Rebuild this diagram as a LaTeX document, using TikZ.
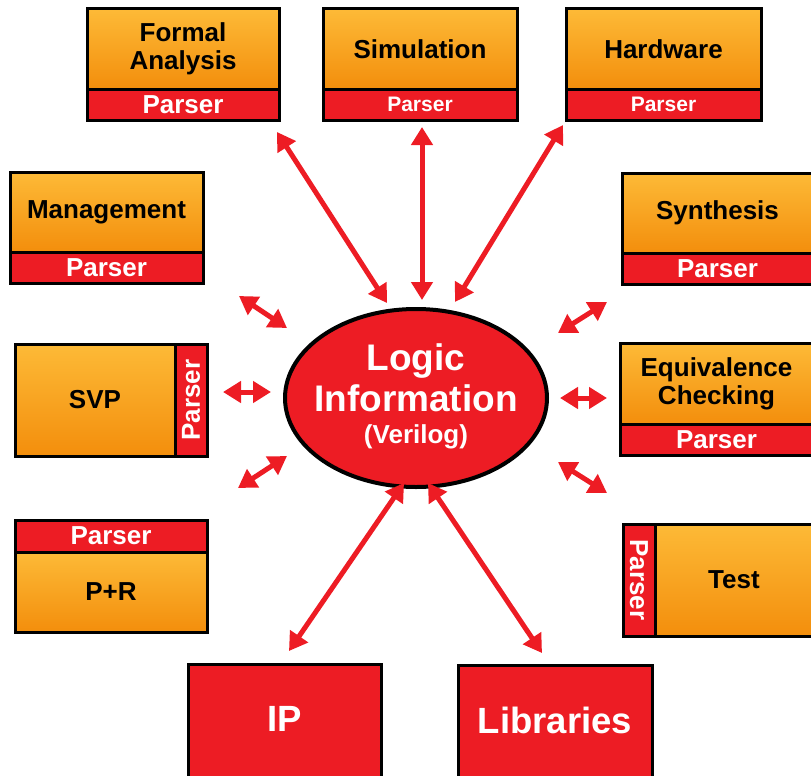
\documentclass[tikz,border=0pt]{standalone}
\usepackage{fontspec}
\setmainfont{Liberation Sans}
\usetikzlibrary{arrows.meta,shapes.geometric}

\definecolor{parred}{RGB}{237,28,36}
\definecolor{orgtop}{RGB}{253,186,55}
\definecolor{orgbot}{RGB}{243,142,12}

\begin{document}
\begin{tikzpicture}[x=1pt,y=-1pt,
  tool/.style={draw=black, line width=3pt, top color=orgtop, bottom color=orgbot,
    inner sep=0pt, outer sep=0pt, anchor=north west, align=center,
    font=\fontsize{26}{28}\selectfont\bfseries},
  parser/.style={draw=black, line width=3pt, fill=parred, text=white,
    inner sep=0pt, outer sep=0pt, anchor=north west,
    font=\fontsize{26}{28}\selectfont\bfseries},
  smallparser/.style={parser, font=\fontsize{21}{24}\selectfont\bfseries},
  source/.style={draw=black, line width=3pt, fill=parred, text=white,
    inner sep=0pt, outer sep=0pt, anchor=north west,
    font=\fontsize{36.5}{40}\selectfont\bfseries},
  vtext/.style={text=white, inner sep=0pt, font=\fontsize{26}{28}\selectfont\bfseries},
  hub/.style={ellipse, draw=black, line width=4pt, fill=parred,
    minimum width=262pt, minimum height=178pt, inner sep=0pt},
  hubtext/.style={text=white, anchor=base, inner sep=0pt},
  link/.style={draw=parred, line width=5pt, <->,
    >={Triangle[length=18pt,width=21pt]}}
]
\useasboundingbox (0,0) rectangle (811,776);
\clip (0,0) rectangle (811,776);

% ---- top row ----
\node[tool, minimum width=192pt, minimum height=80pt] (fa) at (87,9) {Formal\\Analysis};
\node[parser, minimum width=192pt, minimum height=31pt] (fap) at (87,89) {Parser};

\node[tool, minimum width=194pt, minimum height=80pt] (sim) at (323,9) {Simulation};
\node[smallparser, minimum width=194pt, minimum height=31pt] (simp) at (323,89) {Parser};

\node[tool, minimum width=195pt, minimum height=80pt] (hw) at (566,9) {Hardware};
\node[smallparser, minimum width=195pt, minimum height=31pt] (hwp) at (566,89) {Parser};

% ---- left column ----
\node[tool, minimum width=193pt, minimum height=80pt] (mg) at (10,172) {Management};
\node[parser, minimum width=193pt, minimum height=31pt] (mgp) at (10,252) {Parser};

\node[tool, minimum width=160pt, minimum height=112pt] (svp) at (15,344) {SVP};
\node[parser, minimum width=32pt, minimum height=112pt] (svpp) at (175,344) {};
\node[vtext, rotate=90] (svpt) at (svpp.center) {Parser};

\node[parser, minimum width=192pt, minimum height=32pt] (prp) at (15,520) {Parser};
\node[tool, minimum width=192pt, minimum height=80pt] (pr) at (15,552) {P+R};

% ---- right column ----
\node[tool, minimum width=191pt, minimum height=80pt] (syn) at (622,173) {Synthesis};
\node[parser, minimum width=191pt, minimum height=31pt] (synp) at (622,253) {Parser};

\node[tool, minimum width=193pt, minimum height=81pt] (eq) at (620,343) {Equivalence\\Checking};
\node[parser, minimum width=193pt, minimum height=31pt] (eqp) at (620,424) {Parser};

\node[parser, minimum width=32pt, minimum height=112pt] (tsp) at (623,524) {};
\node[vtext, rotate=-90] (tspt) at (tsp.center) {Parser};
\node[tool, minimum width=158pt, minimum height=112pt] (ts) at (655,524) {Test};

% ---- bottom sources ----
\node[source, minimum width=193pt, minimum height=120pt] (ip) at (188,664) {};
\node[text=white, font=\fontsize{36.5}{40}\selectfont\bfseries] (ipt) at (285,719) {IP};
\node[source, minimum width=194pt, minimum height=120pt] (lib) at (458,665) {};
\node[text=white, font=\fontsize{36.5}{40}\selectfont\bfseries] (libt) at (555,720) {Libraries};

% ---- central hub ----
\node[hub] (logic) at (416,398) {};
\node[hubtext, font=\fontsize{37}{40}\selectfont\bfseries] (hl1) at (416,370) {Logic};
\node[hubtext, font=\fontsize{37}{40}\selectfont\bfseries] (hl2) at (416,411) {Information};
\node[hubtext, font=\fontsize{26}{28}\selectfont\bfseries] (hl3) at (416,443) {(Verilog)};

% ---- connector end points ----
\coordinate (fa1) at (277,132);  \coordinate (fa2) at (387,303);
\coordinate (si1) at (422,127);  \coordinate (si2) at (422,300);
\coordinate (hw1) at (563,125);  \coordinate (hw2) at (455,302);
\coordinate (mg1) at (239,296);  \coordinate (mg2) at (287,328);
\coordinate (sy1) at (607,302);  \coordinate (sy2) at (558,333);
\coordinate (sv1) at (223,392);  \coordinate (sv2) at (271,392);
\coordinate (eq1) at (560,398);  \coordinate (eq2) at (607,398);
\coordinate (pr1) at (238,488);  \coordinate (pr2) at (287,456);
\coordinate (ts1) at (558,462);  \coordinate (ts2) at (607,493);
\coordinate (ip1) at (289,651);  \coordinate (ip2) at (404,483);
\coordinate (lb1) at (428,483);  \coordinate (lb2) at (542,653);

\draw[link] (fa1) -- (fa2);
\draw[link] (si1) -- (si2);
\draw[link] (hw1) -- (hw2);
\draw[link] (mg1) -- (mg2);
\draw[link] (sy1) -- (sy2);
\draw[link] (sv1) -- (sv2);
\draw[link] (eq1) -- (eq2);
\draw[link] (pr1) -- (pr2);
\draw[link] (ts1) -- (ts2);
\draw[link] (ip1) -- (ip2);
\draw[link] (lb1) -- (lb2);
\end{tikzpicture}
\end{document}
